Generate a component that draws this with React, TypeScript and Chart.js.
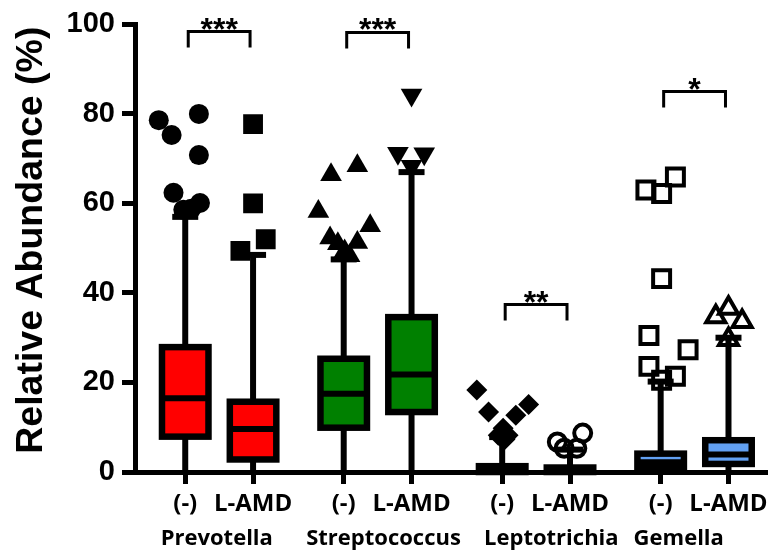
import React, { useEffect, useRef } from "react";
import { Chart, registerables } from "chart.js";

Chart.register(...registerables);

// ---------------- data ----------------
const groups = ["Prevotella", "Streptococcus", "Leptotrichia", "Gemella"];
const conditions = ["(-)", "L-AMD"];
const boxColors = ["#FF0000", "#008000", "#000000", "#62A0F2"];
const yTickValues = [0, 20, 40, 60, 80, 100];

// one entry per box: Prevotella (-), Prevotella L-AMD, Streptococcus (-), ...
const whiskerLow = [0, 0, 0, 0, 0, 0, 0, 0];
const q1 = [7.9, 2.8, 9.9, 13.4, 0.0, 0.0, 0.9, 1.8];
const median = [16.5, 9.6, 17.5, 21.8, 0.3, 0.2, 2.2, 3.9];
const q3 = [27.9, 15.7, 25.3, 34.6, 1.3, 1.0, 4.1, 7.1];
const whiskerHigh = [57.0, 48.5, 47.5, 67.0, 7.8, 5.0, 20.2, 30.0];

const outlierValues = [
  [78.6, 75.3, 80.0, 70.8, 62.4, 60.1, 58.6, 58.8],
  [77.7, 60.0, 52.0, 49.4],
  [66.4, 68.4, 58.2, 55.0, 52.3, 51.0, 51.3, 49.4, 48.3],
  [84.2, 71.2, 71.1, 68.3],
  [18.3, 13.4, 15.1, 12.7, 9.8, 8.2, 8.2, 7.1],
  [6.7, 8.7, 5.3, 5.3],
  [63.0, 62.2, 65.9, 43.2, 30.5, 27.3, 23.6, 21.4, 20.5],
  [34.7, 36.6, 33.6, 29.6],
];
// horizontal spread of the outlier symbols (category units)
const outlierJitter = [
  [-0.167, -0.086, 0.086, 0.086, -0.074, 0.093, -0.012, 0.037],
  [0, 0, 0.08, -0.08],
  [-0.08, 0.086, -0.16, 0.167, -0.086, -0.037, 0.086, 0.006, 0.037],
  [0, -0.086, 0.08, 0],
  [-0.16, -0.086, 0.167, 0.086, 0.006, -0.025, 0.037, 0.012],
  [-0.08, 0.08, -0.037, 0.043],
  [-0.093, 0.006, 0.093, 0.006, -0.074, 0.173, -0.074, 0.093, 0.006],
  [-0.08, 0, 0.086, 0],
];

const sigLabels = ["***", "***", "**", "*"];
const sigHeights = [98.4, 98.2, 37.4, 85.0];

const yTitle = "Relative Abundance (%)";

// ---------------- styles / layout ----------------
const PAIR_OFFSET = 0.214;
const X_MIN = -0.531;
const X_MAX = 3.457;
const BOX_W = 46.5;
const CAP_W = 26;
const GROUP_LABEL_SHIFT = [-0.015, 0.037, 0.096, -0.1];
const markerStyles = [
  { pointStyle: "circle", radius: 10, rotation: 0, open: false },
  { pointStyle: "rect", radius: 14, rotation: 0, open: false },
  { pointStyle: "triangle", radius: 12.5, rotation: 0, open: false },
  { pointStyle: "triangle", radius: 12.5, rotation: 180, open: false },
  { pointStyle: "rectRot", radius: 10.5, rotation: 0, open: false },
  { pointStyle: "circle", radius: 8.5, rotation: 0, open: true },
  { pointStyle: "rect", radius: 12, rotation: 0, open: true },
  { pointStyle: "triangle", radius: 11, rotation: 0, open: true },
];

const boxPositions: number[] = groups.flatMap((_, g) => [g - PAIR_OFFSET, g + PAIR_OFFSET]);
const groupLabelPositions: number[] = groups.map((_, g) => g + GROUP_LABEL_SHIFT[g]);

const boxPlugin = {
  id: "boxPlot",
  beforeDatasetsDraw(chart: any) {
    const { ctx } = chart;
    const xs = chart.scales.x;
    const ys = chart.scales.y;
    ctx.save();
    boxPositions.forEach((p, i) => {
      const cx = xs.getPixelForValue(p);
      const g = Math.floor(i / 2);
      const yLo = ys.getPixelForValue(whiskerLow[i]);
      const yHi = ys.getPixelForValue(whiskerHigh[i]);
      ctx.strokeStyle = "#000";
      ctx.lineCap = "butt";
      ctx.lineWidth = 6;
      ctx.beginPath();
      ctx.moveTo(cx, yLo);
      ctx.lineTo(cx, yHi);
      ctx.stroke();
      ctx.beginPath();
      ctx.moveTo(cx - CAP_W / 2, yHi);
      ctx.lineTo(cx + CAP_W / 2, yHi);
      ctx.stroke();
      const y1 = ys.getPixelForValue(q1[i]);
      const y3 = ys.getPixelForValue(q3[i]);
      const ym = ys.getPixelForValue(median[i]);
      ctx.fillStyle = boxColors[g];
      ctx.fillRect(cx - BOX_W / 2, y3, BOX_W, y1 - y3);
      ctx.lineWidth = 6.5;
      ctx.strokeRect(cx - BOX_W / 2, y3, BOX_W, y1 - y3);
      ctx.lineWidth = 6;
      ctx.beginPath();
      ctx.moveTo(cx - BOX_W / 2, ym);
      ctx.lineTo(cx + BOX_W / 2, ym);
      ctx.stroke();
    });
    ctx.restore();
  },
  afterDatasetsDraw(chart: any) {
    const { ctx } = chart;
    const xs = chart.scales.x;
    const ys = chart.scales.y;
    ctx.save();
    groups.forEach((_, g) => {
      const xa = xs.getPixelForValue(boxPositions[2 * g]) + 3;
      const xb = xs.getPixelForValue(boxPositions[2 * g + 1]) - 3;
      const yb = ys.getPixelForValue(sigHeights[g]);
      ctx.strokeStyle = "#000";
      ctx.lineWidth = 3;
      ctx.lineJoin = "miter";
      ctx.beginPath();
      ctx.moveTo(xa, yb + 16);
      ctx.lineTo(xa, yb);
      ctx.lineTo(xb, yb);
      ctx.lineTo(xb, yb + 16);
      ctx.stroke();
      ctx.fillStyle = "#000";
      ctx.font = "bold 32px 'Liberation Sans', Arial, sans-serif";
      ctx.textAlign = "center";
      ctx.textBaseline = "alphabetic";
      ctx.fillText(sigLabels[g], (xa + xb) / 2, yb + 8);
    });
    // y axis title
    ctx.translate(42, (ys.top + ys.bottom) / 2 - 8);
    ctx.rotate(-Math.PI / 2);
    ctx.font = "bold 37.5px 'Liberation Sans', Arial, sans-serif";
    ctx.textAlign = "center";
    ctx.textBaseline = "alphabetic";
    ctx.fillStyle = "#000";
    ctx.fillText(yTitle, 0, 0);
    ctx.restore();
  },
};

export default function App() {
  const ref = useRef<HTMLCanvasElement | null>(null);
  useEffect(() => {
    if (!ref.current) return;
    const datasets = outlierValues.map((vals, i) => {
      const st = markerStyles[i];
      return {
        label: `${groups[Math.floor(i / 2)]} ${conditions[i % 2]}`,
        data: vals.map((v, k) => ({ x: boxPositions[i] + outlierJitter[i][k], y: v })),
        pointStyle: st.pointStyle,
        pointRadius: st.radius,
        pointRotation: st.rotation,
        backgroundColor: st.open ? "rgba(0,0,0,0)" : "#000",
        borderColor: "#000",
        borderWidth: st.open ? 4 : 0,
        showLine: false,
      };
    });
    const chart = new Chart(ref.current, {
      type: "scatter",
      data: { datasets: datasets as any },
      plugins: [boxPlugin],
      options: {
        animation: false,
        responsive: false,
        events: [],
        layout: { padding: { left: 0, right: 2, top: 23, bottom: 0 } },
        plugins: { legend: { display: false }, tooltip: { enabled: false } },
        scales: {
          x: {
            type: "linear",
            position: "bottom",
            min: X_MIN,
            max: X_MAX,
            bounds: "data",
            weight: 1,
            afterBuildTicks: (s: any) => {
              s.ticks = boxPositions.map((v) => ({ value: v }));
            },
            afterFit: (s: any) => {
              s.height = 48;
            },
            ticks: {
              autoSkip: false,
              maxRotation: 0,
              padding: 6,
              color: "#000",
              font: { family: "'Open Sans', sans-serif", size: 24, weight: "bold" },
              callback: (_v: any, idx: number) => conditions[idx % 2],
            },
            grid: {
              drawOnChartArea: false,
              drawTicks: true,
              tickLength: 12,
              tickWidth: 5,
              tickColor: "#000",
            },
            border: { display: true, width: 5, color: "#000" },
          },
          x2: {
            type: "linear",
            position: "bottom",
            min: X_MIN,
            max: X_MAX,
            bounds: "data",
            weight: 2,
            afterBuildTicks: (s: any) => {
              s.ticks = groupLabelPositions.map((v) => ({ value: v }));
            },
            afterFit: (s: any) => {
              s.height = 32;
            },
            ticks: {
              autoSkip: false,
              maxRotation: 0,
              padding: -2,
              color: "#000",
              font: { family: "'Open Sans', sans-serif", size: 22, weight: "bold" },
              callback: (_v: any, idx: number) => groups[idx],
            },
            grid: { display: false },
            border: { display: false },
          },
          y: {
            type: "linear",
            min: 0,
            max: 100,
            afterBuildTicks: (s: any) => {
              s.ticks = yTickValues.map((v) => ({ value: v }));
            },
            afterFit: (s: any) => {
              s.width = 135;
            },
            ticks: {
              padding: 7,
              color: "#000",
              font: { family: "'Liberation Sans', Arial, sans-serif", size: 29, weight: "bold" },
            },
            grid: {
              drawOnChartArea: false,
              drawTicks: true,
              tickLength: 13,
              tickWidth: 5,
              tickColor: "#000",
            },
            border: { display: true, width: 5, color: "#000" },
          },
        },
      } as any,
    });
    return () => chart.destroy();
  }, []);
  return (
    <div style={{ position: "absolute", left: 0, top: 0, width: 783, height: 552, background: "#fff" }}>
      <canvas ref={ref} width={783} height={552} style={{ display: "block" }} />
    </div>
  );
}
